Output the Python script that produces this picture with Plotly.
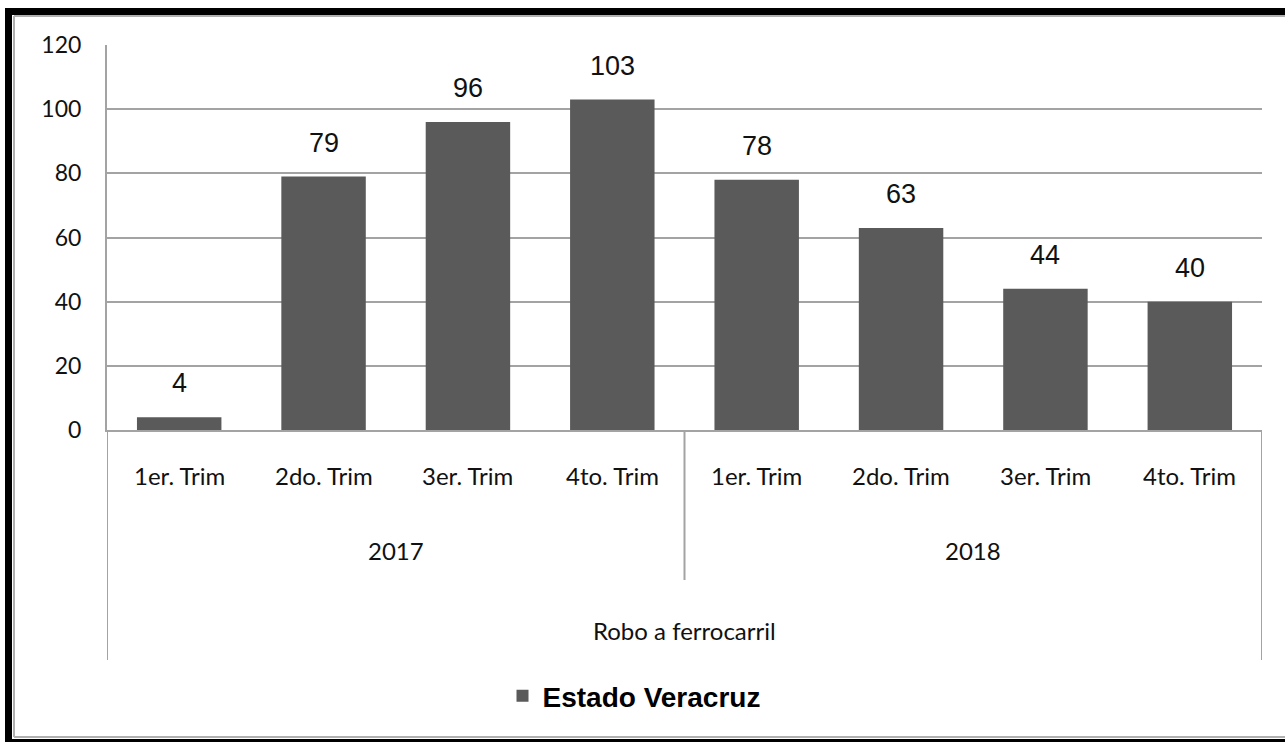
import plotly.graph_objects as go

quarters = ["1er. Trim", "2do. Trim", "3er. Trim", "4to. Trim",
            "1er. Trim", "2do. Trim", "3er. Trim", "4to. Trim"]
years = ["2017", "2018"]
quarters_per_year = 4
group_label = "Robo a ferrocarril"
series_name = "Estado Veracruz"
values = [4, 79, 96, 103, 78, 63, 44, 40]
y_ticks = [0, 20, 40, 60, 80, 100, 120]

W, H = 1285, 742
L, R, T, B = 107, 23, 45, 312
PW, PH = W - L - R, H - T - B


def px(x):
    return (x - L) / PW


def py(y):
    return (H - B - y) / PH


bar_color = "#5a5a5a"
grid_color = "#a3a3a3"
cat_font = dict(family="Lato", size=24, color="#111111")
ytick_font = dict(family="Lato", size=23, color="#111111")
xs = list(range(len(values)))

fig = go.Figure()
fig.add_trace(go.Bar(
    x=xs, y=values, name=series_name,
    marker=dict(color=bar_color, line=dict(width=0)),
    width=0.585, showlegend=True,
))

annotations = []
for x, v in zip(xs, values):
    annotations.append(dict(x=x, y=v, xref="x", yref="y", text=str(v),
                            showarrow=False, yanchor="bottom", yshift=17,
                            font=dict(family="Liberation Sans", size=27, color="#111111")))
for x, q in zip(xs, quarters):
    annotations.append(dict(x=x, y=py(475), xref="x", yref="paper", text=q,
                            showarrow=False, yanchor="middle", font=cat_font))
for i, yr in enumerate(years):
    cx = i * quarters_per_year + (quarters_per_year - 1) / 2
    annotations.append(dict(x=cx, y=py(550), xref="x", yref="paper", text=yr,
                            showarrow=False, yanchor="middle", font=cat_font))
annotations.append(dict(x=(len(values) - 1) / 2, y=py(630), xref="x", yref="paper",
                        text=group_label, showarrow=False, yanchor="middle", font=cat_font))

shapes = []
line_style = dict(color=grid_color, width=2)
n = len(values)
shapes.append(dict(type="line", xref="x", yref="paper", x0=-0.5, x1=-0.5,
                   y0=0, y1=py(660), line=line_style))
shapes.append(dict(type="line", xref="x", yref="paper", x0=n - 0.5, x1=n - 0.5,
                   y0=0, y1=py(660), line=line_style))
for k in range(1, len(years)):
    xb = k * quarters_per_year - 0.5
    shapes.append(dict(type="line", xref="x", yref="paper", x0=xb, x1=xb,
                       y0=0, y1=py(580), line=line_style))

shapes += [
    dict(type="rect", xref="paper", yref="paper", x0=px(5), x1=px(12), y0=py(742), y1=py(8),
         fillcolor="black", line=dict(width=0)),
    dict(type="rect", xref="paper", yref="paper", x0=px(5), x1=px(W), y0=py(15), y1=py(8),
         fillcolor="black", line=dict(width=0)),
    dict(type="rect", xref="paper", yref="paper", x0=px(5), x1=px(W), y0=py(742), y1=py(739),
         fillcolor="black", line=dict(width=0)),
    dict(type="line", xref="paper", yref="paper", x0=px(14), x1=px(14), y0=py(737), y1=py(16),
         line=dict(color="#b0b0b0", width=2)),
    dict(type="line", xref="paper", yref="paper", x0=px(14), x1=px(W), y0=py(16), y1=py(16),
         line=dict(color="#b0b0b0", width=2)),
    dict(type="line", xref="paper", yref="paper", x0=px(14), x1=px(W), y0=py(737), y1=py(737),
         line=dict(color="#b0b0b0", width=2)),
]

fig.update_layout(
    width=W, height=H,
    margin=dict(l=L, r=R, t=T, b=B, autoexpand=False),
    plot_bgcolor="white", paper_bgcolor="white",
    bargap=0.415,
    xaxis=dict(range=[-0.5, n - 0.5], showticklabels=False, showgrid=False,
               zeroline=False, showline=True, linecolor=grid_color, linewidth=2, ticks=""),
    yaxis=dict(range=[0, 120], tickvals=y_ticks, showgrid=True, gridcolor=grid_color,
               gridwidth=2, zeroline=False, showline=True, linecolor=grid_color, linewidth=2,
               ticks="", tickfont=ytick_font, ticklabelstandoff=19),
    legend=dict(orientation="h", x=px(634), xanchor="center", y=py(696), yanchor="middle",
                font=dict(family="Liberation Sans", size=28, color="black", weight="bold"),
                bgcolor="rgba(0,0,0,0)"),
    annotations=annotations,
    shapes=shapes,
)

fig.write_html("out.html", config={"displayModeBar": False},
               post_script="document.body.style.margin='0';document.body.style.overflow='hidden';")
